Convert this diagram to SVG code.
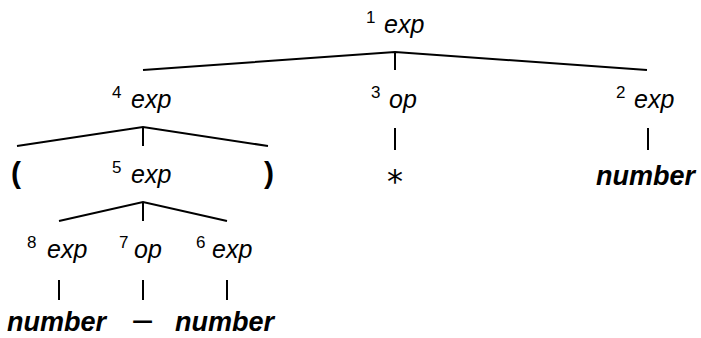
<svg xmlns="http://www.w3.org/2000/svg" width="701" height="338" viewBox="0 0 701 338">
<style>
.n{font-family:"Liberation Sans",Arial,sans-serif;font-style:italic;font-size:25px;fill:#000}
.s{font-family:"Liberation Sans",Arial,sans-serif;font-size:17px;fill:#000}
.t{font-family:"Liberation Sans",Arial,sans-serif;font-style:italic;font-weight:bold;font-size:27px;fill:#000}
.p{font-family:"Liberation Sans",Arial,sans-serif;font-weight:bold;font-size:30px;fill:#000}
.o{font-family:"DejaVu Sans",sans-serif;font-size:32px;fill:#000;text-anchor:middle}
.e line,.e polyline{stroke:#000;stroke-width:2;fill:none}
</style>
<rect width="701" height="338" fill="#fff"/>
<g class="e" id="connectors">
<polyline points="143,70 395,52 647,70"/>
<line x1="395" y1="52" x2="395" y2="70"/>
<line x1="395" y1="128" x2="395" y2="150"/>
<line x1="648" y1="128" x2="648" y2="150"/>
<polyline points="17,146 143,127 268,146"/>
<line x1="143" y1="127" x2="143" y2="146"/>
<polyline points="59,221 143,202 227,221"/>
<line x1="143" y1="202" x2="143" y2="221"/>
<line x1="59" y1="280" x2="59" y2="300"/>
<line x1="143" y1="280" x2="143" y2="300"/>
<line x1="227" y1="280" x2="227" y2="300"/>
</g>
<g id="n1"><text class="s" x="366" y="23">1</text><text class="n" x="384" y="33">exp</text></g>
<g id="n4"><text class="s" x="112" y="98">4</text><text class="n" x="131" y="108">exp</text></g>
<g id="n3"><text class="s" x="371" y="98">3</text><text class="n" x="389" y="108">op</text></g>
<g id="n2"><text class="s" x="616" y="98">2</text><text class="n" x="634" y="108">exp</text></g>
<g id="lp"><text class="p" x="11" y="183">(</text></g>
<g id="n5"><text class="s" x="112" y="173">5</text><text class="n" x="131" y="183">exp</text></g>
<g id="rp"><text class="p" x="264" y="183">)</text></g>
<g id="star"><text class="o" x="395" y="192">*</text></g>
<g id="num2"><text class="t" x="596" y="185">number</text></g>
<g id="n8"><text class="s" x="27" y="248">8</text><text class="n" x="47" y="258">exp</text></g>
<g id="n7"><text class="s" x="119" y="248">7</text><text class="n" x="134" y="258">op</text></g>
<g id="n6"><text class="s" x="196" y="248">6</text><text class="n" x="212" y="258">exp</text></g>
<g id="num8"><text class="t" x="7" y="331">number</text></g>
<g id="minus"><text class="o" x="142.5" y="331" style="font-size:30px">−</text></g>
<g id="num6"><text class="t" x="175" y="331">number</text></g>
</svg>
